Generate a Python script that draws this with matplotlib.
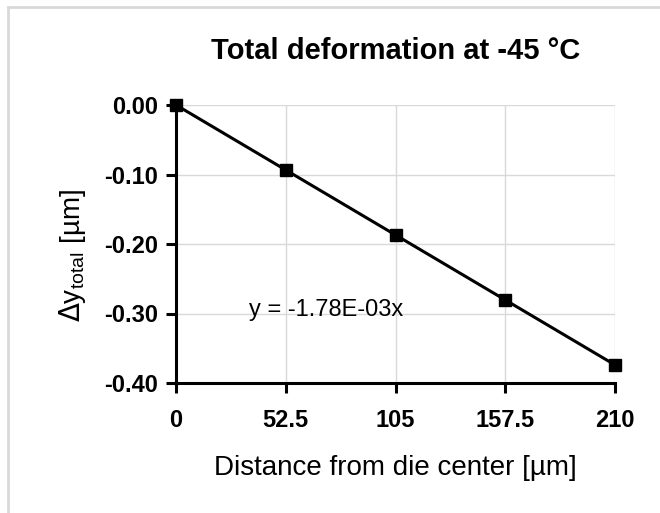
import numpy as np
import matplotlib.pyplot as plt
from matplotlib.patches import Rectangle

# distance from die center [um] and total deformation [um]
dist = [0, 52.5, 105, 157.5, 210]
dy_total = [0.0, -0.0935, -0.187, -0.2805, -0.374]
xticks = [0, 52.5, 105, 157.5, 210]
xtick_labels = ['0', '52.5', '105', '157.5', '210']
yticks = [0.0, -0.1, -0.2, -0.3, -0.4]

plt.rcParams['font.family'] = ['Liberation Sans', 'DejaVu Sans']

fig = plt.figure(figsize=(6.6, 5.13), dpi=100)
W, H = 660, 513
ax = fig.add_axes([176 / W, 1 - 383 / H, (615 - 176) / W, (383 - 105) / H])

# light grey frame around the chart
fig.patches.append(Rectangle((8 / W, -0.1), 1.2, (1 - 7 / H) + 0.1,
                             transform=fig.transFigure, fill=False,
                             edgecolor='#d9d9d9', linewidth=2))

ax.plot(dist, dy_total, color='black', linewidth=2.2, marker='s',
        markersize=8, clip_on=False, zorder=3)

ax.set_xlim(0, 210)
ax.set_ylim(-0.4, 0.0)
ax.set_xticks(xticks)
ax.set_xticklabels(xtick_labels)
ax.set_yticks(yticks)
ax.set_yticklabels(['%.2f' % v for v in yticks])
ax.grid(True, color='#d9d9d9', linewidth=1)
ax.set_axisbelow(True)

for s in ['top', 'right']:
    ax.spines[s].set_visible(False)
for s in ['left', 'bottom']:
    ax.spines[s].set_linewidth(2.2)

ax.tick_params(axis='both', direction='out', length=7, width=2.2,
               labelsize=17)
ax.tick_params(axis='x', pad=12)
ax.tick_params(axis='y', pad=6)
for lab in ax.get_xticklabels() + ax.get_yticklabels():
    lab.set_fontweight('bold')

ax.set_xlabel('Distance from die center [µm]', fontsize=20, labelpad=16)
ax.set_ylabel(r'$\Delta$y$_{\mathregular{total}}$ [µm]', fontsize=20)
ax.yaxis.set_label_coords(-0.2, 0.46)
ax.set_title('Total deformation at -45 °C', fontsize=21, fontweight='bold',
             pad=33)

ax.text(35, -0.295, 'y = -1.78E-03x', fontsize=17, va='center', ha='left')

fig.savefig('out.png', dpi=100)
